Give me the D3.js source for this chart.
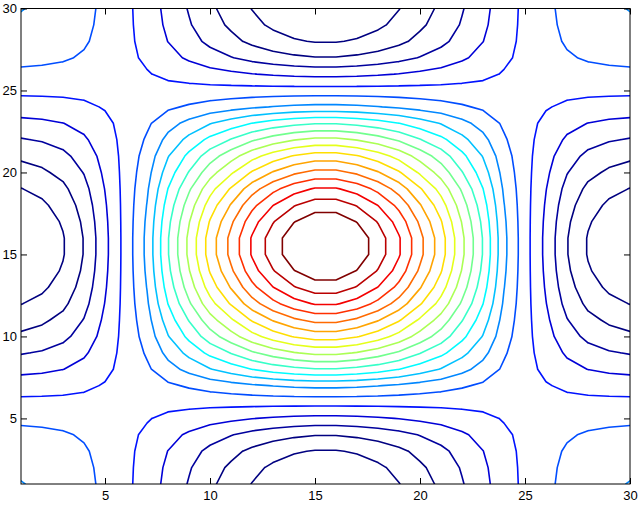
<!DOCTYPE html>
<html><head><meta charset="utf-8">
<script src="https://cdn.jsdelivr.net/npm/d3@7"></script>
<style>body{margin:0;background:#fff}svg{display:block}</style>
</head><body><svg id="c" width="640" height="506"></svg>
<script>
// Profiles (value along each grid column / row, index 1..30)
const xProfile = [-0.333,-0.310,-0.270,-0.200,-0.095,0.010,0.125,0.293,0.436,0.575,0.689,0.803,0.892,0.959,1.0,
                  1.0,0.959,0.892,0.803,0.689,0.575,0.436,0.293,0.125,0.010,-0.095,-0.200,-0.270,-0.310,-0.333];
const yProfile = [-0.333,-0.310,-0.270,-0.200,-0.095,0.010,0.125,0.293,0.436,0.575,0.689,0.803,0.892,0.959,1.0,
                  1.0,0.959,0.892,0.803,0.689,0.575,0.436,0.293,0.125,0.010,-0.095,-0.200,-0.270,-0.310,-0.333];
const levels = [-0.265625,-0.203125,-0.140625,-0.078125,-0.015625,0.046875,0.109375,0.171875,0.234375,0.296875,
                0.359375,0.421875,0.484375,0.546875,0.609375,0.671875,0.734375,0.796875,0.859375,0.921875];
const xTicks = [5,10,15,20,25,30];
const yTicks = [5,10,15,20,25,30];

const W = 640, H = 506;
const m = {left:21, top:8.5, right:10, bottom:22};
const svg = d3.select("#c");
const x = d3.scaleLinear().domain([1,30]).range([m.left, W-m.right]);
const y = d3.scaleLinear().domain([1,30]).range([H-m.bottom, m.top]);

// grid built from the profiles
const nx = xProfile.length, ny = yProfile.length;
const Z = yProfile.map(vy => xProfile.map(vx => vx*vy));

function jet(t){
  t = Math.max(0, Math.min(1, t));
  const c = v => Math.max(0, Math.min(1, v));
  const r = c(1.5 - Math.abs(4*t-3)), g = c(1.5 - Math.abs(4*t-2)), b = c(1.5 - Math.abs(4*t-1));
  return d3.rgb(r*255, g*255, b*255).toString();
}
// level index -> colormap position
const cScale = d3.scaleLinear().domain([1.5, levels.length-1]).range([0,1]).clamp(true);

function segmentsFor(L){
  const segs = [];
  for (let j=0;j<ny-1;j++){
    for (let i=0;i<nx-1;i++){
      const v00=Z[j][i], v10=Z[j][i+1], v11=Z[j+1][i+1], v01=Z[j+1][i];
      const a00=v00>L, a10=v10>L, a11=v11>L, a01=v01>L;
      const X0=i+1, Y0=j+1;
      const pts = {};
      if (a00!==a10) pts.b = [X0+(L-v00)/(v10-v00), Y0];
      if (a10!==a11) pts.r = [X0+1, Y0+(L-v10)/(v11-v10)];
      if (a01!==a11) pts.t = [X0+(L-v01)/(v11-v01), Y0+1];
      if (a00!==a01) pts.l = [X0, Y0+(L-v00)/(v01-v00)];
      const keys = Object.keys(pts);
      if (keys.length===2) segs.push([pts[keys[0]], pts[keys[1]]]);
      else if (keys.length===4){
        const ca = (v00+v10+v11+v01)/4 > L;
        if (a00!==ca){ segs.push([pts.l,pts.b]); segs.push([pts.r,pts.t]); }
        else { segs.push([pts.b,pts.r]); segs.push([pts.l,pts.t]); }
      }
    }
  }
  return segs;
}

svg.append("defs").append("clipPath").attr("id","clip").append("rect")
  .attr("x", x(1)).attr("y", y(30)).attr("width", x(30)-x(1)).attr("height", y(1)-y(30));

const g = svg.append("g").attr("clip-path","url(#clip)");
levels.forEach((L, k) => {
  const segs = segmentsFor(L);
  const d = segs.map(s => `M${x(s[0][0]).toFixed(2)},${y(s[0][1]).toFixed(2)}L${x(s[1][0]).toFixed(2)},${y(s[1][1]).toFixed(2)}`).join("");
  g.append("path").attr("d", d).attr("fill","none")
    .attr("stroke", jet(cScale(k))).attr("stroke-width",1.6)
    .attr("stroke-linecap","round").attr("stroke-linejoin","round");
});

// axes (MATLAB style: inward ticks, box)
const font = "Liberation Sans, Arial, Helvetica, sans-serif";
const ax = svg.append("g").attr("transform",`translate(0,${y(1)})`)
  .call(d3.axisBottom(x).tickValues(xTicks).tickSize(-6).tickPadding(7));
const axT = svg.append("g").attr("transform",`translate(0,${y(30)})`)
  .call(d3.axisTop(x).tickValues(xTicks).tickSize(-6).tickFormat(""));
const ay = svg.append("g").attr("transform",`translate(${x(1)},0)`)
  .call(d3.axisLeft(y).tickValues(yTicks).tickSize(-6).tickPadding(4));
const ayR = svg.append("g").attr("transform",`translate(${x(30)},0)`)
  .call(d3.axisRight(y).tickValues(yTicks).tickSize(-6).tickFormat(""));
[ax,axT,ay,ayR].forEach(a => {
  a.select(".domain").remove();
  a.selectAll("line").attr("stroke","#000");
  a.selectAll("text").attr("font-family",font).attr("font-size",13).attr("fill","#000");
});
svg.append("rect").attr("x",x(1)).attr("y",y(30)).attr("width",x(30)-x(1)).attr("height",y(1)-y(30))
  .attr("fill","none").attr("stroke","#000").attr("stroke-width",1);
</script></body></html>
